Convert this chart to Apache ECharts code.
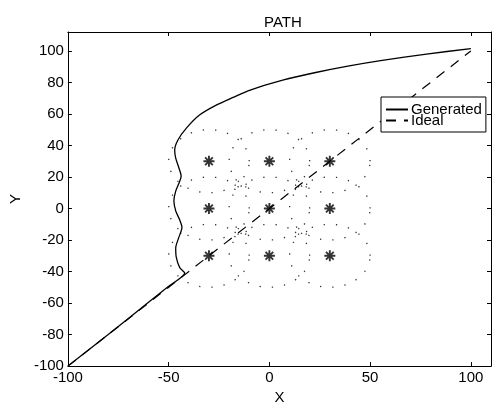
<!DOCTYPE html>
<html>
<head>
<meta charset="utf-8">
<script src="https://cdn.jsdelivr.net/npm/echarts@6/dist/echarts.min.js"></script>
<style>html,body{margin:0;padding:0;background:#fff}#c{width:494px;height:410px}</style>
</head>
<body>
<div id="c"></div>
<script>
const xTicks = [-100, -50, 0, 50, 100];
const yTicks = [-100, -80, -60, -40, -20, 0, 20, 40, 60, 80, 100];
const generatedX = [-100, -80, -60, -50, -42, -44.5, -46.2, -46.5, -45, -43.4, -44.6, -46.5, -47.4, -46.5, -44.6, -43.8, -44.9, -46.5, -47, -45.4, -41.2, -34.7, -26.4, -18, -9.9, 6.6, 23, 39.6, 56, 78, 100];
const generatedY = [-100, -80, -59.5, -49.4, -41, -37.5, -31, -25, -18.5, -12, -7, -1.5, 4.7, 11, 17, 20.5, 25.7, 32, 37, 43.5, 51, 59.3, 65.6, 70.5, 75, 81.4, 86.3, 90.5, 94, 98, 101.5];
const idealX = [-100, 100];
const idealY = [-100, 100];
const starX = [-30, 0, 30, -30, 0, 30, -30, 0, 30];
const starY = [-30, -30, -30, 0, 0, 0, 30, 30, 30];
const bigCircleR = [20, 20, 20, 20, 20, 20, 20, 20, 20];
const smallCircleX = [-15, 15, -15, 15];
const smallCircleY = [15, 15, -15, -15];
const smallCircleR = [3.5, 3.5, 3.5, 3.5];

const zip = (a, b) => a.map((v, i) => [v, b[i]]);
const circles = starX.map((x, i) => [x, starY[i], bigCircleR[i]])
  .concat(smallCircleX.map((x, i) => [x, smallCircleY[i], smallCircleR[i]]));

const font = 'Liberation Sans, Arial, Helvetica, sans-serif';
const chart = echarts.init(document.getElementById('c'));
const axisCommon = {
  axisLine: { show: true, onZero: false, lineStyle: { color: '#000', width: 1 } },
  axisTick: { show: true, inside: true, length: 4, lineStyle: { color: '#000' } },
  splitLine: { show: false }
};
chart.setOption({
  backgroundColor: '#fff',
  animation: false,
  title: {
    text: 'PATH', left: 259, top: 10,
    textStyle: { fontFamily: font, fontSize: 15, fontWeight: 'normal', color: '#000' }
  },
  legend: {
    orient: 'vertical', left: 381, top: 97,
    padding: [5, 4, 4, 4], itemGap: -4, itemWidth: 22, itemHeight: 11,
    borderColor: '#000', borderWidth: 1, backgroundColor: '#fff',
    data: ['Generated', 'Ideal'],
    itemStyle: { opacity: 0 },
    textStyle: { fontFamily: font, fontSize: 15, color: '#000', padding: [0, 0, 0, -2] }
  },
  grid: { left: 67, right: 2, top: 32, bottom: 41, show: false },
  xAxis: [
    Object.assign({
      type: 'value', min: -100, max: 110, interval: 50, position: 'bottom',
      name: 'X', nameLocation: 'middle', nameGap: 23,
      nameTextStyle: { fontFamily: font, fontSize: 15, color: '#000' },
      axisLabel: { fontFamily: font, fontSize: 15, color: '#000', margin: 4,
        formatter: v => xTicks.includes(v) ? String(v) : '' }
    }, axisCommon),
    Object.assign({
      type: 'value', min: -100, max: 110, interval: 50, position: 'top',
      axisLabel: { show: false }
    }, axisCommon)
  ],
  yAxis: [
    Object.assign({
      type: 'value', min: -100, max: 112, interval: 20, position: 'left',
      name: 'Y', nameLocation: 'middle', nameGap: 44,
      nameTextStyle: { fontFamily: font, fontSize: 15, color: '#000' },
      axisLabel: { fontFamily: font, fontSize: 15, color: '#000', margin: 4,
        formatter: v => yTicks.includes(v) ? String(v) : '' }
    }, axisCommon),
    Object.assign({
      type: 'value', min: -100, max: 112, interval: 20, position: 'right',
      axisLabel: { show: false }
    }, axisCommon)
  ],
  series: [
    {
      type: 'custom', name: 'circles', silent: true, z: 1,
      data: circles,
      renderItem: function (params, api) {
        const cx = api.value(0), cy = api.value(1), r = api.value(2);
        const n = 72, pts = [];
        for (let i = 0; i <= n; i++) {
          const t = 2 * Math.PI * i / n;
          pts.push(api.coord([cx + r * Math.cos(t), cy + r * Math.sin(t)]));
        }
        return { type: 'polyline', shape: { points: pts },
          style: { stroke: '#333', lineWidth: 1.3, fill: null, lineDash: [1.3, 11] } };
      }
    },
    {
      type: 'scatter', name: 'stars', silent: true, z: 3,
      data: zip(starX, starY),
      symbol: 'path://M10,0L10,20M0,10L20,10M3,3L17,17M3,17L17,3',
      symbolSize: 11,
      itemStyle: { color: '#000', borderColor: '#000', borderWidth: 1.9 }
    },
    {
      type: 'line', name: 'Ideal', z: 2,
      data: zip(idealX, idealY), showSymbol: false, symbol: 'none',
      itemStyle: { color: '#000' },
      lineStyle: { color: '#000', width: 1.2, type: [10, 8] }
    },
    {
      type: 'line', name: 'Generated', z: 4,
      data: zip(generatedX, generatedY), showSymbol: false, symbol: 'none', smooth: 0.25,
      itemStyle: { color: '#000' },
      lineStyle: { color: '#000', width: 1.3 }
    }
  ]
});
</script>
</body>
</html>
